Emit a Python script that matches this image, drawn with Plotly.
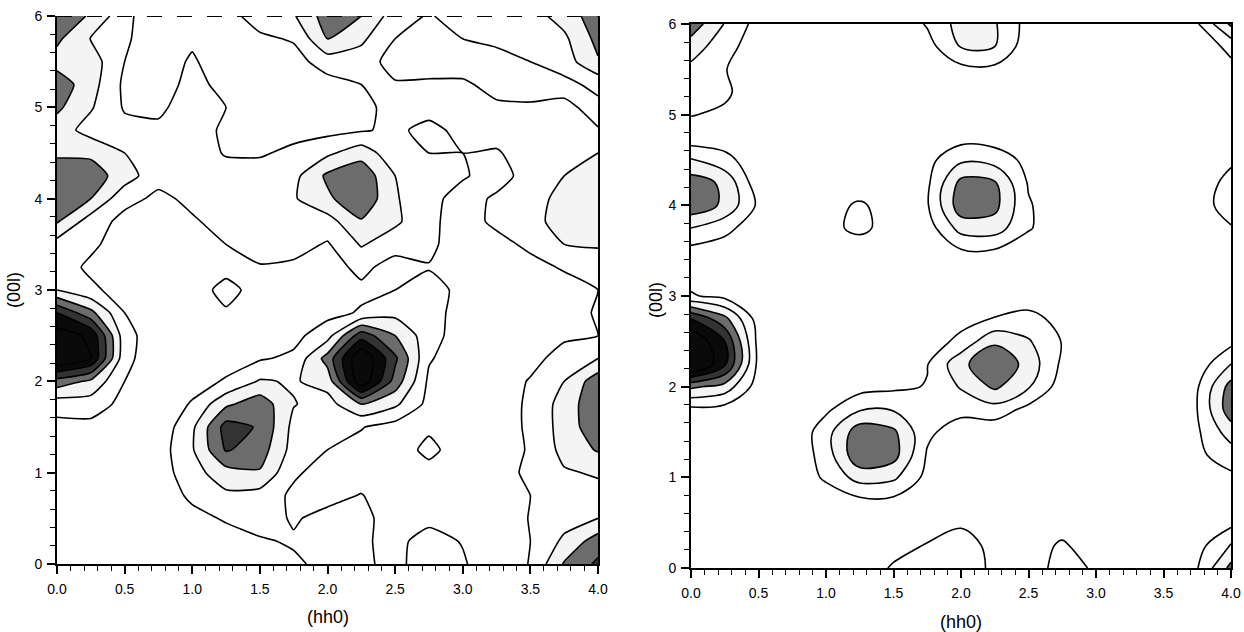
import plotly.graph_objects as go

# (hh0) positions of the grid columns and (00l) positions of the rows (top -> bottom)
hh0 = [0.0, 0.25, 0.5, 0.75, 1.0, 1.25, 1.5, 1.75, 2.0, 2.25, 2.5, 2.75, 3.0, 3.25, 3.5, 3.75, 4.0]
l00_top_down = [6.0, 5.75, 5.5, 5.25, 5.0, 4.75, 4.5, 4.25, 4.0, 3.75, 3.5, 3.25, 3.0,
                2.75, 2.5, 2.25, 2.0, 1.75, 1.5, 1.25, 1.0, 0.75, 0.5, 0.25, 0.0]

# Left map (measured intensity, contour-level units), rows from (00l)=6 down to 0
measured_rows = [
    [3.6, 2.9, 1.3, 0.2, 0.3, 0.6, 1.5, 1.9, 3.5, 3.0, 1.5, 0.9, 1.5, 1.5, 1.6, 2.4, 3.6],
    [3.2, 1.95, 1.1, 0.6, 0.8, 0.4, 0.8, 1.1, 3.0, 2.2, 1.0, 0.5, 1.0, 1.3, 1.5, 1.8, 3.3],
    [2.6, 2.5, 1.0, 0.4, 1.15, 0.3, 0.2, 0.6, 1.5, 1.5, 0.6, 0.4, 0.4, 0.5, 1.0, 1.5, 2.9],
    [3.6, 2.4, 0.8, 0.4, 1.4, 0.6, 0.2, 0.3, 0.6, 1.0, 1.1, 1.2, 1.2, 0.6, 0.5, 0.7, 1.3],
    [3.2, 2.1, 0.9, 0.8, 1.5, 1.0, 0.3, 0.3, 0.3, 0.6, 1.5, 1.4, 1.3, 1.2, 1.15, 1.2, 0.7],
    [2.5, 1.6, 1.3, 1.2, 1.5, 0.8, 0.4, 0.7, 0.7, 0.9, 1.2, 0.7, 1.3, 1.4, 1.5, 1.5, 1.05],
    [2.8, 2.8, 2.0, 1.5, 1.6, 0.9, 0.9, 1.2, 1.8, 2.6, 1.3, 1.0, 1.0, 0.9, 1.5, 1.8, 2.0],
    [3.7, 3.5, 2.5, 1.3, 1.5, 1.5, 1.4, 1.7, 3.2, 3.7, 2.0, 1.4, 1.1, 0.6, 1.4, 2.0, 2.5],
    [3.8, 3.0, 1.3, 0.8, 1.2, 1.3, 1.3, 1.9, 2.8, 3.8, 2.1, 1.3, 0.6, 1.15, 1.5, 2.4, 2.6],
    [3.1, 1.5, 0.7, 0.5, 0.9, 1.3, 1.5, 1.6, 1.6, 2.9, 2.2, 1.2, 0.6, 1.2, 1.6, 2.5, 2.7],
    [1.6, 1.2, 0.5, 0.4, 0.5, 1.0, 1.3, 1.4, 0.9, 2.1, 1.4, 1.2, 0.5, 0.7, 1.2, 2.0, 2.1],
    [1.5, 0.8, 0.4, 0.3, 0.4, 0.6, 0.95, 0.8, 0.6, 1.25, 0.6, 0.95, 0.5, 0.5, 0.7, 1.1, 1.5],
    [2.0, 1.2, 0.6, 0.3, 0.4, 1.4, 0.5, 0.4, 0.5, 0.8, 1.0, 1.3, 0.8, 0.4, 0.4, 0.6, 1.0],
    [5.0, 3.3, 1.0, 0.3, 0.3, 0.85, 0.4, 0.5, 0.7, 1.1, 1.7, 1.4, 0.6, 0.4, 0.4, 0.6, 1.1],
    [6.5, 5.8, 1.4, 0.3, 0.3, 0.4, 0.5, 0.7, 1.6, 4.6, 3.0, 1.4, 0.5, 0.4, 0.5, 0.8, 1.0],
    [7.0, 6.0, 1.3, 0.3, 0.35, 0.6, 0.9, 1.2, 3.4, 7.0, 4.2, 1.1, 0.4, 0.3, 0.6, 1.5, 2.0],
    [3.6, 2.8, 1.0, 0.3, 0.6, 1.1, 2.1, 1.9, 2.4, 6.8, 3.6, 0.8, 0.3, 0.3, 1.1, 2.0, 3.6],
    [1.4, 1.5, 0.7, 0.3, 1.1, 2.8, 3.6, 2.05, 1.6, 3.0, 2.2, 0.7, 0.3, 0.4, 1.2, 2.4, 3.8],
    [0.7, 0.7, 0.4, 0.3, 1.8, 4.4, 3.9, 1.7, 1.5, 1.05, 0.6, 0.8, 0.3, 0.4, 1.2, 2.4, 3.7],
    [0.5, 0.4, 0.3, 0.5, 1.9, 4.1, 3.5, 1.6, 1.0, 0.7, 0.4, 1.3, 0.4, 0.5, 1.1, 2.3, 3.1],
    [0.4, 0.3, 0.3, 0.5, 1.6, 2.6, 2.9, 1.15, 0.6, 0.5, 0.4, 0.6, 0.3, 0.4, 1.3, 1.9, 2.1],
    [0.3, 0.3, 0.3, 0.4, 1.2, 1.8, 1.6, 0.8, 0.7, 1.05, 0.4, 0.3, 0.3, 0.5, 1.0, 1.5, 1.7],
    [0.3, 0.3, 0.3, 0.3, 0.7, 1.1, 1.4, 0.9, 1.3, 1.3, 0.5, 0.8, 0.5, 0.4, 1.05, 1.6, 2.0],
    [0.3, 0.3, 0.3, 0.3, 0.4, 0.6, 0.9, 1.1, 1.3, 1.1, 0.8, 1.3, 0.95, 0.4, 1.0, 2.2, 3.5],
    [0.3, 0.3, 0.3, 0.3, 0.3, 0.4, 0.6, 0.85, 1.25, 1.1, 0.85, 1.3, 1.1, 0.4, 1.05, 3.1, 4.2],
]

# Right map (calculated intensity), same grid
model_rows = [
    [3.6, 1.95, 0.6, 0.2, 0.1, 0.1, 0.2, 1.1, 2.4, 2.1, 0.6, 0.1, 0.1, 0.1, 0.15, 0.9, 3.2],
    [2.5, 1.4, 0.4, 0.15, 0.1, 0.1, 0.2, 0.6, 2.05, 2.0, 0.4, 0.1, 0.1, 0.1, 0.1, 0.3, 1.3],
    [1.75, 1.05, 0.3, 0.1, 0.1, 0.1, 0.1, 0.2, 0.7, 0.75, 0.2, 0.1, 0.1, 0.1, 0.1, 0.1, 0.7],
    [1.4, 1.2, 0.3, 0.1, 0.1, 0.1, 0.1, 0.1, 0.2, 0.2, 0.1, 0.1, 0.1, 0.1, 0.1, 0.1, 0.1],
    [1.05, 0.8, 0.2, 0.1, 0.1, 0.1, 0.1, 0.1, 0.1, 0.1, 0.1, 0.1, 0.1, 0.1, 0.1, 0.1, 0.1],
    [0.35, 0.5, 0.15, 0.1, 0.1, 0.1, 0.1, 0.3, 0.6, 0.5, 0.2, 0.1, 0.1, 0.1, 0.1, 0.1, 0.2],
    [2.1, 1.3, 0.4, 0.1, 0.2, 0.2, 0.3, 0.7, 1.8, 1.6, 0.7, 0.2, 0.1, 0.1, 0.1, 0.2, 0.8],
    [3.5, 2.8, 0.3, 0.1, 0.3, 0.35, 0.2, 0.8, 3.3, 3.1, 0.9, 0.2, 0.1, 0.1, 0.1, 0.3, 1.4],
    [3.7, 2.8, 0.8, 0.15, 0.6, 1.15, 0.5, 0.9, 3.6, 3.3, 1.1, 0.3, 0.1, 0.1, 0.1, 0.4, 1.6],
    [2.0, 1.3, 0.4, 0.1, 0.7, 1.25, 0.55, 0.5, 2.4, 2.5, 1.1, 0.3, 0.1, 0.1, 0.1, 0.3, 0.9],
    [0.7, 0.5, 0.2, 0.1, 0.2, 0.4, 0.2, 0.2, 0.9, 0.9, 0.4, 0.15, 0.1, 0.1, 0.1, 0.1, 0.3],
    [0.6, 0.4, 0.2, 0.1, 0.1, 0.1, 0.1, 0.1, 0.3, 0.3, 0.2, 0.1, 0.1, 0.1, 0.1, 0.1, 0.1],
    [1.1, 0.7, 0.2, 0.1, 0.1, 0.1, 0.1, 0.1, 0.2, 0.4, 0.5, 0.4, 0.1, 0.1, 0.1, 0.1, 0.1],
    [5.0, 3.3, 0.5, 0.1, 0.1, 0.1, 0.1, 0.2, 0.6, 1.05, 1.3, 0.7, 0.2, 0.1, 0.1, 0.1, 0.3],
    [7.0, 5.0, 0.65, 0.1, 0.1, 0.1, 0.1, 0.4, 1.3, 2.8, 2.1, 0.95, 0.2, 0.1, 0.1, 0.1, 0.7],
    [7.5, 5.2, 0.7, 0.1, 0.1, 0.15, 0.3, 0.95, 2.7, 3.95, 2.6, 0.8, 0.15, 0.1, 0.1, 0.4, 2.0],
    [3.2, 2.6, 0.5, 0.1, 0.1, 0.6, 0.8, 1.05, 2.1, 3.2, 2.1, 0.5, 0.1, 0.1, 0.1, 0.9, 3.4],
    [0.75, 0.6, 0.2, 0.1, 0.8, 1.9, 1.9, 1.2, 1.3, 1.6, 0.7, 0.2, 0.1, 0.1, 0.1, 1.0, 3.6],
    [0.4, 0.3, 0.1, 0.1, 1.6, 3.6, 3.2, 1.2, 0.5, 0.3, 0.2, 0.1, 0.1, 0.1, 0.1, 0.85, 2.5],
    [0.3, 0.2, 0.1, 0.1, 1.5, 3.8, 3.4, 0.9, 0.2, 0.1, 0.1, 0.1, 0.1, 0.1, 0.1, 0.8, 1.5],
    [0.2, 0.2, 0.1, 0.1, 1.2, 2.4, 2.2, 0.7, 0.1, 0.1, 0.1, 0.1, 0.1, 0.1, 0.1, 0.3, 0.8],
    [0.1, 0.1, 0.1, 0.1, 0.3, 0.8, 0.8, 0.3, 0.4, 0.2, 0.1, 0.1, 0.1, 0.1, 0.1, 0.1, 0.2],
    [0.1, 0.1, 0.1, 0.1, 0.1, 0.2, 0.3, 0.6, 0.9, 0.4, 0.2, 0.5, 0.3, 0.1, 0.1, 0.2, 0.7],
    [0.1, 0.1, 0.1, 0.1, 0.1, 0.3, 0.7, 1.05, 1.3, 0.8, 0.5, 1.15, 0.4, 0.1, 0.1, 0.6, 2.1],
    [0.1, 0.1, 0.1, 0.1, 0.1, 0.5, 1.1, 1.3, 1.4, 0.85, 0.6, 1.3, 0.9, 0.1, 0.1, 0.95, 3.3],
]

x_ticks = [0.0, 0.5, 1.0, 1.5, 2.0, 2.5, 3.0, 3.5, 4.0]
x_ticktext = ["0.0", "0.5", "1.0", "1.5", "2.0", "2.5", "3.0", "3.5", "4.0"]
y_ticks = [0, 1, 2, 3, 4, 5, 6]

# Fill of the bands between contour levels: <1, 1-2, 2-3, 3-4, 4-5, 5-6, >6
band_colors = ["#ffffff", "#ffffff", "#f4f4f4", "#6c6c6c", "#333333", "#0a0a0a", "#0a0a0a"]
colorscale = [[i / (len(band_colors) - 1), c] for i, c in enumerate(band_colors)]

l00 = l00_top_down[::-1]
FONT = "Liberation Sans, Arial, Helvetica, sans-serif"

fig = go.Figure()


def add_map(rows, xa, ya, smooth):
    fig.add_trace(go.Contour(
        x=hh0, y=l00, z=rows[::-1],
        xaxis=xa, yaxis=ya,
        contours=dict(start=1, end=6, size=1, coloring="fill", showlines=True),
        colorscale=colorscale, showscale=False,
        line=dict(color="black", width=1.6, smoothing=smooth),
        hoverinfo="skip",
    ))


add_map(measured_rows, "x", "y", 0.5)
add_map(model_rows, "x2", "y2", 1.0)

W, H = 1244, 632
left_x = [57 / W, 598 / W]
left_y = [1 - 564 / H, 1 - 16 / H]
right_x = [691 / W, 1231 / W]
right_y = [1 - 568 / H, 1 - 24 / H]


def xaxis(domain, anchor, mirror):
    return dict(
        domain=domain, anchor=anchor, range=[0, 4], automargin=False,
        tickmode="array", tickvals=x_ticks, ticktext=x_ticktext,
        ticks="outside", ticklen=8, tickwidth=1.6, tickcolor="black",
        ticklabelstandoff=3,
        minor=dict(dtick=0.1, tick0=0, ticks="outside", ticklen=5, tickwidth=1.3,
                   tickcolor="black", showgrid=False),
        showline=True, linewidth=2, linecolor="black", mirror=mirror,
        showgrid=False, zeroline=False,
        tickfont=dict(family=FONT, size=14, color="black"),
    )


def yaxis(domain, anchor):
    return dict(
        domain=domain, anchor=anchor, range=[0, 6], automargin=False,
        tickmode="array", tickvals=y_ticks,
        ticks="outside", ticklen=8, tickwidth=1.6, tickcolor="black",
        ticklabelstandoff=2,
        minor=dict(dtick=0.2, tick0=0, ticks="outside", ticklen=5, tickwidth=1.3,
                   tickcolor="black", showgrid=False),
        showline=True, linewidth=2, linecolor="black", mirror=True,
        showgrid=False, zeroline=False,
        tickfont=dict(family=FONT, size=14, color="black"),
    )


def label(text, x, y, angle=0):
    return dict(text=text, xref="paper", yref="paper", x=x / W, y=1 - y / H,
                xanchor="center", yanchor="middle", showarrow=False, textangle=angle,
                font=dict(family=FONT, size=18, color="black"))


fig.update_layout(
    template="none",
    width=W, height=H,
    margin=dict(l=0, r=0, t=0, b=0, autoexpand=False),
    paper_bgcolor="white", plot_bgcolor="white",
    showlegend=False,
    xaxis=xaxis(left_x, "y", False),
    yaxis=yaxis(left_y, "x"),
    xaxis2=xaxis(right_x, "y2", True),
    yaxis2=yaxis(right_y, "x2"),
    shapes=[
        dict(type="line", xref="x", yref="y", x0=0, x1=4, y0=6, y1=6,
             line=dict(color="black", width=2, dash="longdash"), layer="above"),
    ],
    annotations=[
        label("(hh0)", (57 + 598) / 2, 617),
        label("(hh0)", (691 + 1231) / 2, 622),
        label("(00l)", 14, 290, -90),
        label("(00l)", 656, 300, -90),
    ],
)

fig.write_html("out.html", config={"displayModeBar": False},
               post_script="document.body.style.margin='0px';")
